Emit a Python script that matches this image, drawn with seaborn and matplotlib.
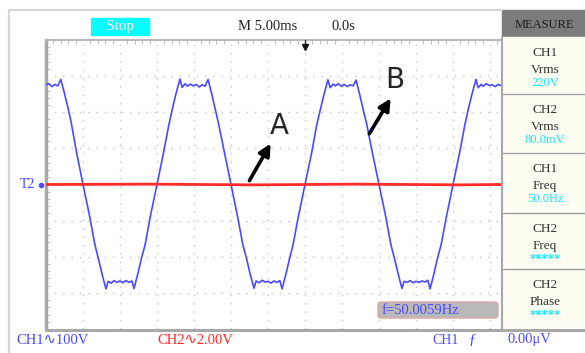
import numpy as np
import pandas as pd
import seaborn as sns
import matplotlib.pyplot as plt
from matplotlib.patches import Rectangle, FancyBboxPatch

sns.set_style("white")
plt.rcParams['font.family'] = ['Liberation Serif', 'DejaVu Serif']

# CH1 trace: time in ms (0 = trigger point), volts
ch1_t = [-35.0, -34.6, -34.2, -33.8, -33.4, -33.0, -32.5, -32.0, -31.6, -30.9, -30.0,
         -29.1, -28.4, -27.9, -27.4, -26.9, -26.6, -26.2, -25.8, -25.4, -25.0, -24.6,
         -24.2, -23.8, -23.4, -23.1, -22.6, -22.1, -21.6, -20.9, -20.0,
         -19.1, -18.4, -18.0, -17.5, -16.9, -16.6, -16.2, -15.9, -15.5, -15.1, -14.7,
         -14.3, -13.9, -13.5, -13.1, -12.6, -12.1, -11.7, -10.9, -10.0,
         -9.1, -8.4, -7.9, -7.4, -6.9, -6.6, -6.2, -5.8, -5.4, -5.0, -4.6,
         -4.2, -3.8, -3.4, -3.1, -2.6, -2.1, -1.6, -0.9, 0.0,
         0.9, 1.6, 2.0, 2.5, 3.1, 3.4, 3.8, 4.1, 4.5, 4.9, 5.3,
         5.7, 6.1, 6.5, 6.9, 7.4, 7.9, 8.3, 9.1, 10.0,
         10.9, 11.6, 12.1, 12.6, 13.1, 13.4, 13.8, 14.2, 14.6, 15.0, 15.4,
         15.8, 16.2, 16.6, 16.9, 17.4, 17.9, 18.4, 19.1, 20.0,
         20.9, 21.6, 22.0, 22.5, 23.1, 23.4, 23.8, 24.1, 24.5, 24.9, 25.3,
         25.7, 26.1, 26.6]
ch1_v = [276, 279, 271, 277, 273, 291, 252, 210, 172, 92, 0,
         -88, -166, -207, -250, -289, -268, -273, -266, -271, -267, -272,
         -266, -271, -267, -288, -248, -204, -166, -88, 0,
         90, 165, 203, 246, 292, 269, 279, 272, 278, 273, 277,
         270, 276, 272, 291, 250, 206, 170, 90, 0,
         -90, -167, -205, -249, -287, -267, -272, -265, -270, -268, -273,
         -267, -271, -266, -289, -250, -206, -165, -89, 0,
         88, 167, 201, 244, 290, 268, 278, 273, 279, 272, 277,
         271, 276, 273, 289, 248, 204, 171, 88, 0,
         -88, -166, -206, -248, -288, -268, -271, -266, -272, -268, -271,
         -267, -270, -265, -289, -249, -204, -166, -90, 0,
         89, 165, 203, 245, 291, 268, 277, 272, 279, 274, 276,
         271, 277, 273]

# CH2 trace (flat at 0 V)
ch2_t = [-35.0, -21.0, -7.0, 7.0, 21.0, 26.6]
ch2_v = [0, 1, -1, 1, -1, 0]

# measure menu
meas_ch = ["CH1", "CH2", "CH1", "CH2", "CH2"]
meas_item = ["Vrms", "Vrms", "Freq", "Freq", "Phase"]
meas_val = ["220V", "80.0mV", "50.0Hz", "*****", "*****"]

BLUE = "#4a4aff"
RED = "#ff2a2a"
CYAN = "#19e6f5"
W, H = 585, 353

df1 = pd.DataFrame({"t": ch1_t, "v": ch1_v})
df2 = pd.DataFrame({"t": ch2_t, "v": ch2_v})

fig = plt.figure(figsize=(W / 100, H / 100), dpi=100)

# graticule axes, 5 ms/div and 100 V/div
ax = fig.add_axes([46 / W, (H - 329) / H, (502 - 46) / W, 289 / H])
ax.set_xlim(-35, 26.62)
ax.set_ylim(-400, 400)
ax.set_xticks(np.arange(-30, 26, 5))
ax.set_yticks(np.arange(-300, 301, 100))
ax.set_xticks(np.arange(-35, 26.6, 1), minor=True)
ax.set_yticks(np.arange(-400, 401, 20), minor=True)
ax.grid(True, which="major", color="#c4c4c4", linestyle=(0, (1, 5)), lw=1)
ax.tick_params(which="major", length=0, labelbottom=False, labelleft=False)
ax.tick_params(which="minor", direction="in", length=3, color="#b5b5b5",
               top=True, bottom=False, left=True, labelbottom=False, labelleft=False)
for s in ["right", "bottom"]:
    ax.spines[s].set_visible(False)
ax.spines["left"].set_color("#a8a8a8")
ax.spines["left"].set_linewidth(2.5)
ax.spines["top"].set_color("#b8b8b8")
ax.spines["top"].set_linewidth(1.5)

sns.lineplot(data=df1, x="t", y="v", ax=ax, color=BLUE, lw=1.2,
             estimator=None, sort=False, zorder=3)
sns.lineplot(data=df2, x="t", y="v", ax=ax, color=RED, lw=2.0,
             estimator=None, sort=False, zorder=4)
ax.set_xlabel("")
ax.set_ylabel("")

# annotations A and B
ax.annotate("", xy=(-4.46, 120), xytext=(-7.7, 4),
            arrowprops=dict(arrowstyle="-|>,head_width=0.35,head_length=0.7",
                            color="black", lw=2.6))
ax.text(-3.5, 162, "A", fontsize=20, ha="center", va="center", family="DejaVu Sans")
ax.annotate("", xy=(11.76, 245), xytext=(8.5, 134),
            arrowprops=dict(arrowstyle="-|>,head_width=0.35,head_length=0.7",
                            color="black", lw=2.6))
ax.text(12.2, 288, "B", fontsize=20, ha="center", va="center", family="DejaVu Sans")

# overlay in pixel coordinates for the scope UI
ov = fig.add_axes([0, 0, 1, 1], zorder=5)
ov.set_xlim(0, W)
ov.set_ylim(H, 0)
ov.axis("off")
ov.patch.set_visible(False)

ov.plot([9, 9, 502], [H, 10, 10], color="#d6d6d6", lw=1.6)
ov.plot([46, W], [330, 330], color="#a8a8a8", lw=2.2)

# top bar
ov.add_patch(Rectangle((91, 18), 58, 17, color="#00ffff"))
ov.text(120, 26.5, "Stop", color="white", fontsize=11, ha="center", va="center")
ov.text(238, 27, "M 5.00ms", color="#222222", fontsize=10.5, va="center")
ov.text(332, 27, "0.0s", color="#222222", fontsize=10.5, va="center")
ov.plot([305, 305], [40, 44], color="#222222", lw=1)
ov.plot(305, 46.5, marker="v", color="#111111", ms=4)

# T2 marker
ov.text(20, 184.5, "T2", color=BLUE, fontsize=10, va="center")
ov.plot(41, 184.5, marker="o", color=BLUE, ms=3)

# measure panel
ov.add_patch(Rectangle((502, 10), 83, 27, color="#7c7c7c"))
ov.text(544, 25, "MEASURE", color="#1c1c1c", fontsize=9, ha="center", va="center")
edges = [37, 94, 153, 213, 269, 326]
ov.add_patch(Rectangle((502, 37), 83, 289, color="#fdfdf2"))
ov.plot([502, 502], [37, 330], color="#a8a8a8", lw=1.5)
for e in edges[1:-1]:
    ov.plot([503, W], [e, e], color="#a0a0a0", lw=1)
for i in range(5):
    top = edges[i]
    ov.text(545, top + 16, meas_ch[i], color="#333333", fontsize=9.5, ha="center", va="center")
    ov.text(545, top + 33, meas_item[i], color="#333333", fontsize=9.5, ha="center", va="center")
    ov.text(545, top + 46, meas_val[i], color=CYAN, fontsize=9,
            ha="center", va="center", fontweight="bold" if meas_val[i] == "*****" else "normal")

# frequency counter box
ov.add_patch(FancyBboxPatch((378, 302), 120, 16, boxstyle="round,pad=0,rounding_size=3",
                            facecolor="#b9b9b9", edgecolor="#d9a8a8", lw=1))
ov.text(382, 310.5, "f=50.0059Hz", color=BLUE, fontsize=10.5, va="center")

# bottom status line
ov.text(16, 340, "CH1∿100V", color=BLUE, fontsize=10.5, va="center", family=["Liberation Serif", "DejaVu Sans"])
ov.text(157, 340, "CH2∿2.00V", color=RED, fontsize=10.5, va="center", family=["Liberation Serif", "DejaVu Sans"])
ov.text(432, 340, "CH1", color=BLUE, fontsize=10, va="center")
ov.text(469, 340, "ƒ", color=BLUE, fontsize=11, va="center")
ov.text(507, 340, "0.00μV", color=BLUE, fontsize=10.5, va="center")

fig.savefig("out.png", dpi=100)
